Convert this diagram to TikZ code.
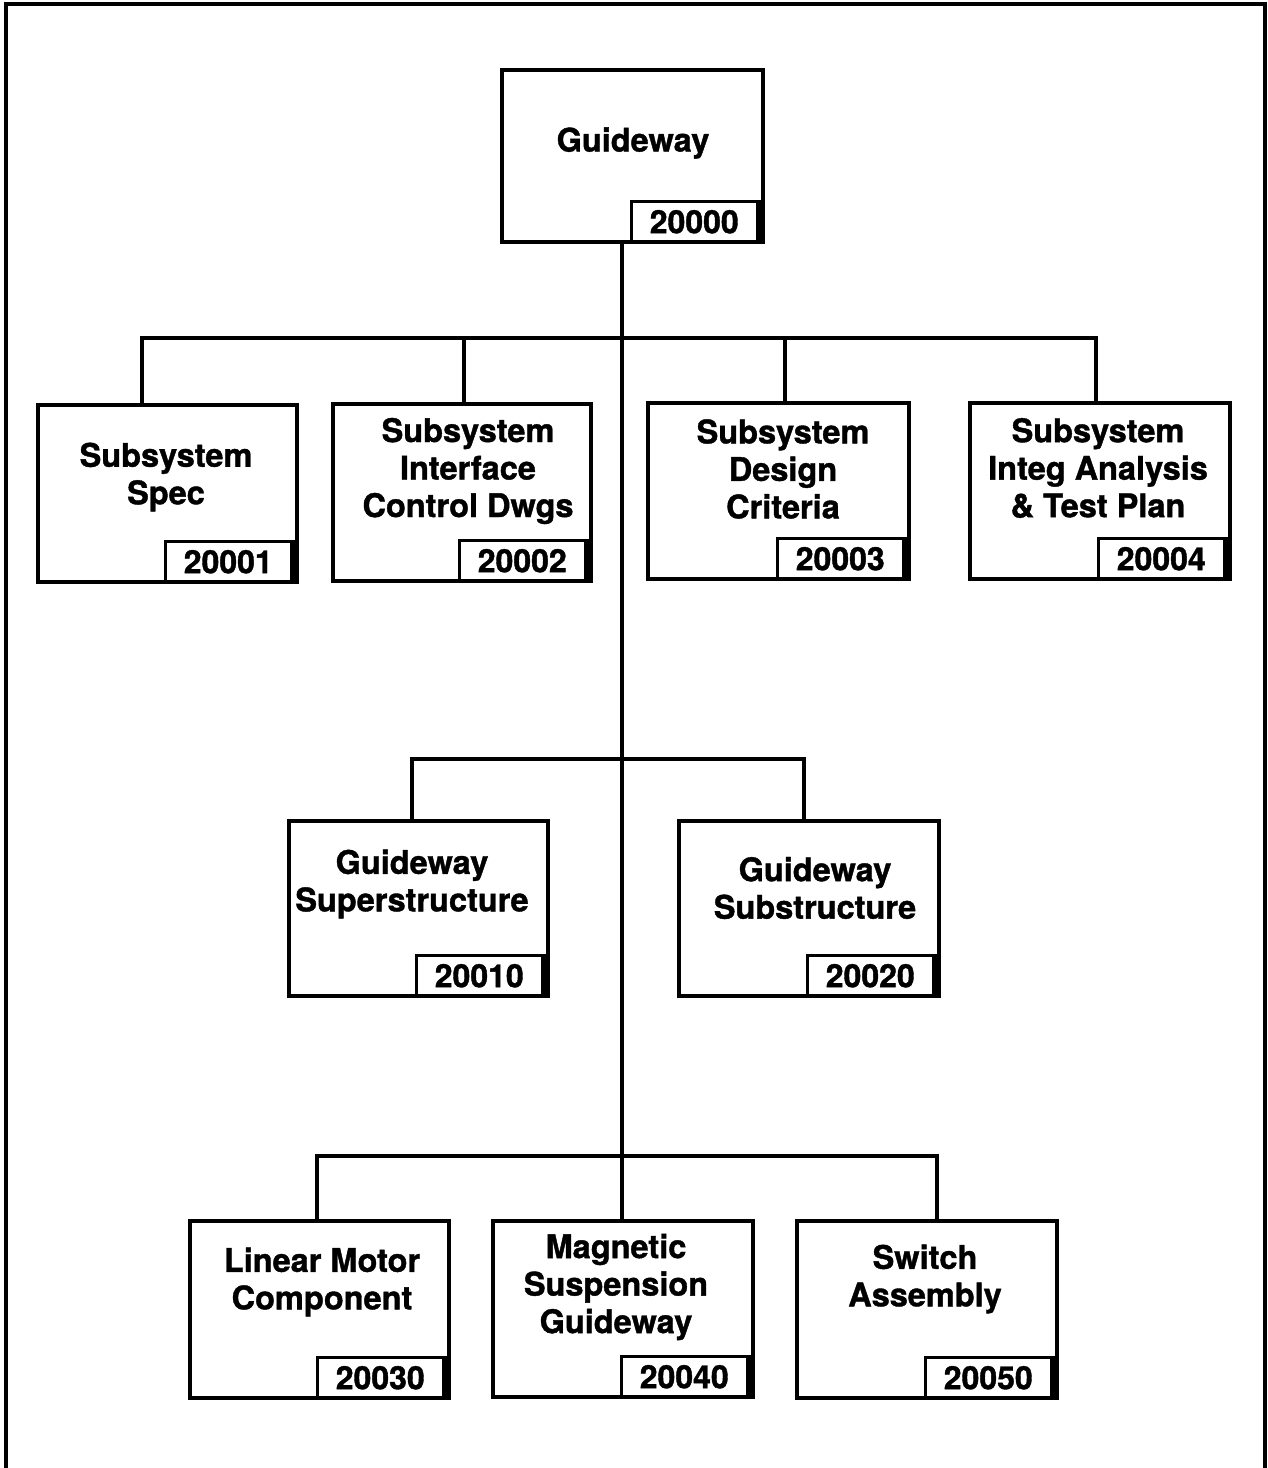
\documentclass[tikz,border=0pt]{standalone}
\usepackage{fontspec}
\setmainfont{TeX Gyre Heros}[BoldFeatures={FakeBold=1.2}]
\begin{document}
\begin{tikzpicture}[x=1pt,y=-1pt,
  wbs/.style={draw, line width=3.5pt, inner sep=0pt, fill=white},
  caption/.style={font=\bfseries\fontsize{32.5}{37.5}\selectfont, align=center, inner sep=0pt},
  tabbox/.style={draw, line width=3pt, inner sep=0pt, minimum width=126pt, minimum height=41pt,
    font=\bfseries\fontsize{32}{32}\selectfont, anchor=south east},
  link/.style={line width=3.2pt}]
\useasboundingbox (0,0) rectangle (1268,1468);

% outer frame (open at the bottom)
\draw[line width=4pt] (6,1468) -- (6,4) -- (1265,4) -- (1265,1468);

% tab with the element number, sitting in the lower right corner of a box
\newcommand\wbstab[2]{%
  \node[tabbox] (#1n) at ([xshift=-6pt]#1.south east) {#2};
  \draw[line width=5pt] (#1n.north east) -- (#1n.south east);}

% boxes
\node[wbs, minimum width=261pt, minimum height=172pt] (top) at (632.5,156) {};
\node[wbs, minimum width=259pt, minimum height=177pt] (b1) at (167.5,493.5) {};
\node[wbs, minimum width=258pt, minimum height=177pt] (b2) at (462,492.5) {};
\node[wbs, minimum width=261pt, minimum height=176pt] (b3) at (778.5,491) {};
\node[wbs, minimum width=260pt, minimum height=176pt] (b4) at (1100,491) {};
\node[wbs, minimum width=259pt, minimum height=175pt] (b5) at (418.5,908.5) {};
\node[wbs, minimum width=260pt, minimum height=175pt] (b6) at (809,908.5) {};
\node[wbs, minimum width=259pt, minimum height=177pt] (b7) at (319.5,1309.5) {};
\node[wbs, minimum width=260pt, minimum height=176pt] (b8) at (623,1309) {};
\node[wbs, minimum width=260pt, minimum height=177pt] (b9) at (927,1309.5) {};

% captions
\node[caption] (ttop) at (633,143) {Guideway};
\node[caption] (t1) at (166,477) {Subsystem\\Spec};
\node[caption] (t2) at (468,471) {Subsystem\\Interface\\Control Dwgs};
\node[caption] (t3) at (783,469) {Subsystem\\Design\\Criteria};
\node[caption] (t4) at (1098,468) {Subsystem\\Integ Analysis\\\& Test Plan};
\node[caption] (t5) at (412,884) {Guideway\\Superstructure};
\node[caption] (t6) at (815,888) {Guideway\\Substructure};
\node[caption] (t7) at (322,1282) {Linear Motor\\Component};
\node[caption] (t8) at (616,1287) {Magnetic\\Suspension\\Guideway};
\node[caption] (t9) at (925,1279) {Switch\\Assembly};

% number tabs
\wbstab{top}{20000}
\wbstab{b1}{20001}
\wbstab{b2}{20002}
\wbstab{b3}{20003}
\wbstab{b4}{20004}
\wbstab{b5}{20010}
\wbstab{b6}{20020}
\wbstab{b7}{20030}
\wbstab{b8}{20040}
\wbstab{b9}{20050}

% drop and bus positions
\coordinate (trunk) at (622,0);
\coordinate (j1) at (622,338);
\coordinate (j2) at (622,759);
\coordinate (j3) at (622,1156);
\coordinate (d1) at (142,0);
\coordinate (d2) at (464,0);
\coordinate (d3) at (785,0);
\coordinate (d4) at (1096,0);
\coordinate (d5) at (412,0);
\coordinate (d6) at (804,0);
\coordinate (d7) at (317,0);
\coordinate (d9) at (937,0);

% connectors
\draw[link] (top.south -| trunk) -- (b8.north -| trunk);
\draw[link] (b1.north -| d1) |- (j1) -| (b4.north -| d4);
\draw[link] (b2.north -| d2) -- (d2 |- j1);
\draw[link] (b3.north -| d3) -- (d3 |- j1);
\draw[link] (b5.north -| d5) |- (j2) -| (b6.north -| d6);
\draw[link] (b7.north -| d7) |- (j3) -| (b9.north -| d9);
\end{tikzpicture}
\end{document}
